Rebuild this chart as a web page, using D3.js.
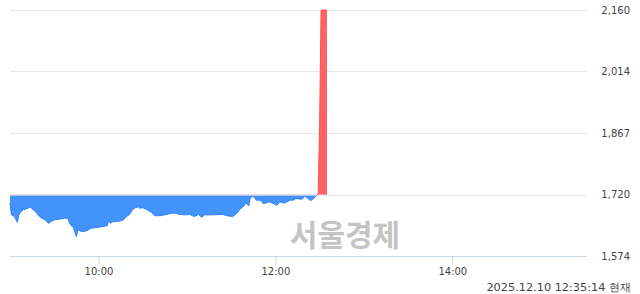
<!DOCTYPE html>
<html><head><meta charset="utf-8">
<script src="https://cdn.jsdelivr.net/npm/d3@7"></script>
<style>
html,body{margin:0;padding:0;background:#fff;}
svg{display:block;}
</style></head>
<body>
<script>
const times = ["09:00","09:01","09:03","09:05","09:06","09:07","09:09","09:11","09:14","09:15","09:17","09:19","09:21","09:24","09:26","09:28","09:30","09:34","09:37","09:39","09:41","09:43","09:45","09:46","09:49","09:52","09:55","10:01","10:06","10:07","10:08","10:10","10:13","10:17","10:19","10:21","10:23","10:25","10:27","10:28","10:30","10:33","10:36","10:38","10:42","10:46","10:50","10:52","10:55","10:59","11:02","11:05","11:08","11:10","11:12","11:18","11:24","11:27","11:31","11:34","11:36","11:38","11:40","11:42","11:43","11:45","11:47","11:50","11:52","11:54","11:56","12:01","12:03","12:06","12:10","12:12","12:14","12:18","12:20","12:22","12:24","12:26","12:28","12:29","12:30","12:31","12:35"];
const prices = [1700,1672,1668,1654,1672,1678,1684,1686,1691,1686,1681,1672,1665,1660,1652,1656,1660,1662,1664,1664,1648,1642,1620,1636,1632,1634,1640,1643,1646,1661,1652,1656,1656,1660,1668,1673,1684,1689,1691,1688,1689,1684,1678,1670,1670,1673,1676,1676,1673,1672,1673,1668,1673,1666,1672,1672,1673,1670,1668,1676,1686,1691,1700,1694,1713,1717,1707,1707,1698,1701,1703,1695,1703,1700,1707,1707,1711,1709,1717,1711,1706,1711,1719,1720,1890,2160,2160];
const yTicks = [1574,1720,1867,2014,2160];
const xTicks = ["10:00","12:00","14:00"];
const basePrice = 1720;
const sessionStart = "09:00", sessionEnd = "15:30";
const stamp = "2025.12.10 12:35:14 현재";
const watermark = "서울경제";

const W = 640, H = 294;
const parse = d3.timeParse("%H:%M");
const data = times.map((t,i)=>({t:parse(t), v:prices[i]}));

const svg = d3.select("body").append("svg").attr("width",W).attr("height",H);
const x = d3.scaleTime().domain([parse(sessionStart), parse(sessionEnd)]).range([10,585]);
const y = d3.scaleLinear().domain([1574,2160]).range([256,10]);

svg.append("g").selectAll("line").data(yTicks.filter(d=>d!==1574)).join("line")
  .attr("x1",10).attr("x2",587).attr("y1",d=>Math.round(y(d))+0.5).attr("y2",d=>Math.round(y(d))+0.5)
  .attr("stroke","#e6e6e6").attr("stroke-width",1);

svg.append("text").attr("x",345).attr("y",246).attr("text-anchor","middle")
  .attr("font-family","'Noto Sans CJK KR', sans-serif").attr("font-weight","bold")
  .attr("font-size",30).attr("fill","#c4c4c4").text(watermark);

const by = y(basePrice);
const area = d3.area().x(d=>x(d.t)).y0(by).y1(d=>y(d.v));
const line = d3.line().x(d=>x(d.t)).y(d=>y(d.v));
const defs = svg.append("defs");
defs.append("clipPath").attr("id","above").append("rect").attr("x",0).attr("y",0).attr("width",W).attr("height",by);
defs.append("clipPath").attr("id","below").append("rect").attr("x",0).attr("y",by).attr("width",W).attr("height",H-by);

const gB = svg.append("g").attr("clip-path","url(#below)");
gB.append("path").datum(data).attr("d",area).attr("fill","#4493fb");
gB.append("path").datum(data).attr("d",line).attr("fill","none").attr("stroke","#2f84f5").attr("stroke-width",1);
const gR = svg.append("g").attr("clip-path","url(#above)");
gR.append("path").datum(data).attr("d",area).attr("fill","#ff6464");
gR.append("path").datum(data).attr("d",line).attr("fill","none").attr("stroke","#ff5050").attr("stroke-width",1);

svg.append("line").attr("x1",10).attr("x2",587).attr("y1",Math.round(by)+0.5).attr("y2",Math.round(by)+0.5)
  .attr("stroke","#e6e6e6").attr("stroke-width",1).attr("opacity",0.6);

const xAxis = d3.axisBottom(x).tickValues(xTicks.map(parse)).tickSize(8).tickFormat(d3.timeFormat("%H:%M"));
const gx = svg.append("g").attr("transform","translate(0,256.5)").call(xAxis);
gx.select(".domain").attr("d","M10,0H587").attr("stroke","#ccd6eb");
gx.selectAll(".tick line").attr("stroke","#ccd6eb");
gx.selectAll(".tick text").attr("font-family","'DejaVu Sans', sans-serif").attr("font-size",10).attr("fill","#444").attr("dy","0.9em").attr("y",9);

svg.append("g").selectAll("text").data(yTicks).join("text")
  .attr("x",630).attr("y",d=>y(d)).attr("dy","0.35em").attr("text-anchor","end")
  .attr("font-family","'DejaVu Sans', sans-serif").attr("font-size",10).attr("fill","#444")
  .text(d=>d3.format(",")(d));

svg.append("text").attr("x",631).attr("y",291).attr("text-anchor","end")
  .attr("font-family","'DejaVu Sans', sans-serif").attr("font-size",11.3).attr("fill","#444").text(stamp);
</script>
</body></html>
